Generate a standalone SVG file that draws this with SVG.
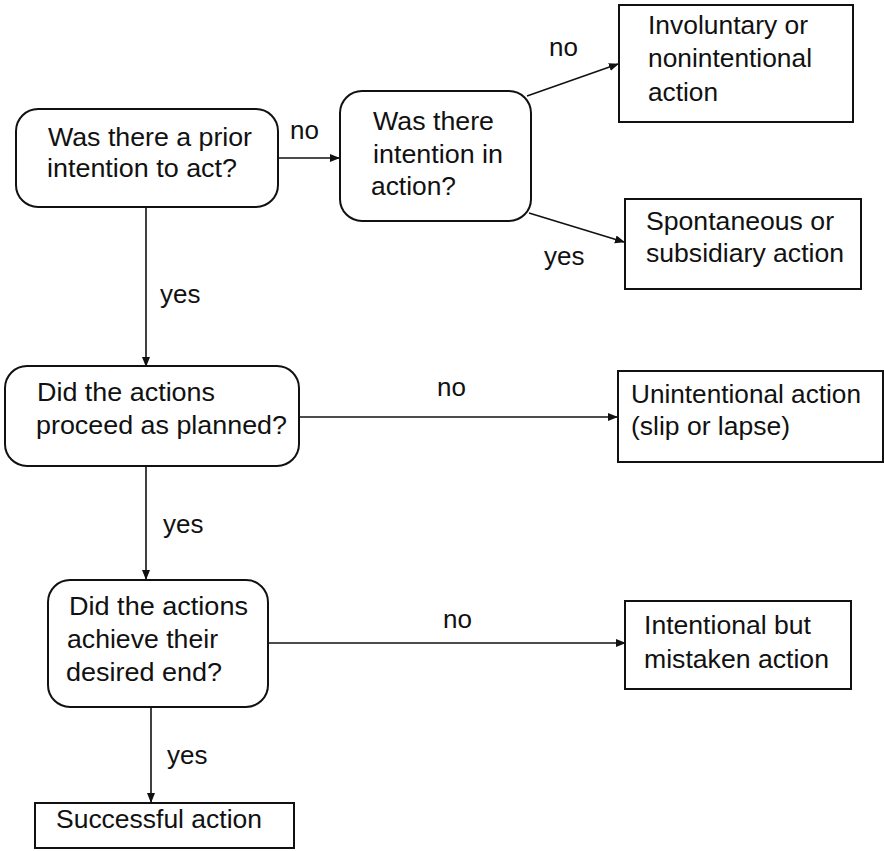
<svg xmlns="http://www.w3.org/2000/svg" width="884" height="851" viewBox="0 0 884 851">
<style>
text{font-family:"Liberation Sans",Arial,sans-serif;font-size:26px;fill:#111}
.n text{lengthAdjust:spacingAndGlyphs}
.n rect{fill:#fff;stroke:#111;stroke-width:2}
.c line{stroke:#111;stroke-width:1.6;fill:none}
</style>
<defs>
<marker id="ah" markerWidth="10" markerHeight="10" refX="9" refY="5" orient="auto" markerUnits="userSpaceOnUse">
<path d="M0,1 L10,5 L0,9 Z" fill="#111"/>
</marker>
</defs>
<rect width="884" height="851" fill="#fff"/>
<g class="c" id="connectors">
<line x1="278" y1="158" x2="339" y2="158" marker-end="url(#ah)"/>
<line x1="527" y1="96" x2="618" y2="64" marker-end="url(#ah)"/>
<line x1="529" y1="213" x2="624" y2="242" marker-end="url(#ah)"/>
<line x1="146" y1="207" x2="146" y2="366" marker-end="url(#ah)"/>
<line x1="299" y1="417" x2="617" y2="417" marker-end="url(#ah)"/>
<line x1="146" y1="466" x2="146" y2="579" marker-end="url(#ah)"/>
<line x1="268" y1="643" x2="625" y2="643" marker-end="url(#ah)"/>
<line x1="151" y1="707" x2="151" y2="802" marker-end="url(#ah)"/>
<text x="290" y="139">no</text>
<text x="549" y="56">no</text>
<text x="544" y="265">yes</text>
<text x="160" y="303">yes</text>
<text x="437" y="396">no</text>
<text x="163" y="533">yes</text>
<text x="443" y="628">no</text>
<text x="167" y="764">yes</text>
</g>
<g class="n" id="q1">
<rect x="16" y="109" width="262" height="98" rx="22"/>
<text x="48" y="146" textLength="204" lengthAdjust="spacingAndGlyphs">Was there a prior</text>
<text x="47" y="177" textLength="190" lengthAdjust="spacingAndGlyphs">intention to act?</text>
</g>
<g class="n" id="q2">
<rect x="340" y="91" width="191" height="130" rx="22"/>
<text x="373" y="130" textLength="121" lengthAdjust="spacingAndGlyphs">Was there</text>
<text x="373" y="163" textLength="130" lengthAdjust="spacingAndGlyphs">intention in</text>
<text x="371" y="195" textLength="85" lengthAdjust="spacingAndGlyphs">action?</text>
</g>
<g class="n" id="r1">
<rect x="619" y="5" width="234" height="117"/>
<text x="648" y="34" textLength="160" lengthAdjust="spacingAndGlyphs">Involuntary or</text>
<text x="648" y="67" textLength="164" lengthAdjust="spacingAndGlyphs">nonintentional</text>
<text x="648" y="101" textLength="70" lengthAdjust="spacingAndGlyphs">action</text>
</g>
<g class="n" id="r2">
<rect x="625" y="199" width="236" height="90"/>
<text x="646" y="230" textLength="188" lengthAdjust="spacingAndGlyphs">Spontaneous or</text>
<text x="646" y="262" textLength="198" lengthAdjust="spacingAndGlyphs">subsidiary action</text>
</g>
<g class="n" id="q3">
<rect x="5" y="366" width="294" height="100" rx="22"/>
<text x="37" y="401" textLength="178" lengthAdjust="spacingAndGlyphs">Did the actions</text>
<text x="36" y="434" textLength="251" lengthAdjust="spacingAndGlyphs">proceed as planned?</text>
</g>
<g class="n" id="r3">
<rect x="618" y="371" width="265" height="91"/>
<text x="631" y="403" textLength="230" lengthAdjust="spacingAndGlyphs">Unintentional action</text>
<text x="631" y="435" textLength="159" lengthAdjust="spacingAndGlyphs">(slip or lapse)</text>
</g>
<g class="n" id="q4">
<rect x="48" y="580" width="220" height="127" rx="22"/>
<text x="69" y="615" textLength="179" lengthAdjust="spacingAndGlyphs">Did the actions</text>
<text x="67" y="648" textLength="151" lengthAdjust="spacingAndGlyphs">achieve their</text>
<text x="66" y="681" textLength="156" lengthAdjust="spacingAndGlyphs">desired end?</text>
</g>
<g class="n" id="r4">
<rect x="625" y="601" width="226" height="88"/>
<text x="644" y="634" textLength="167" lengthAdjust="spacingAndGlyphs">Intentional but</text>
<text x="644" y="668" textLength="185" lengthAdjust="spacingAndGlyphs">mistaken action</text>
</g>
<g class="n" id="r5">
<rect x="35" y="803" width="259" height="45"/>
<text x="56" y="828" textLength="206" lengthAdjust="spacingAndGlyphs">Successful action</text>
</g>
</svg>
